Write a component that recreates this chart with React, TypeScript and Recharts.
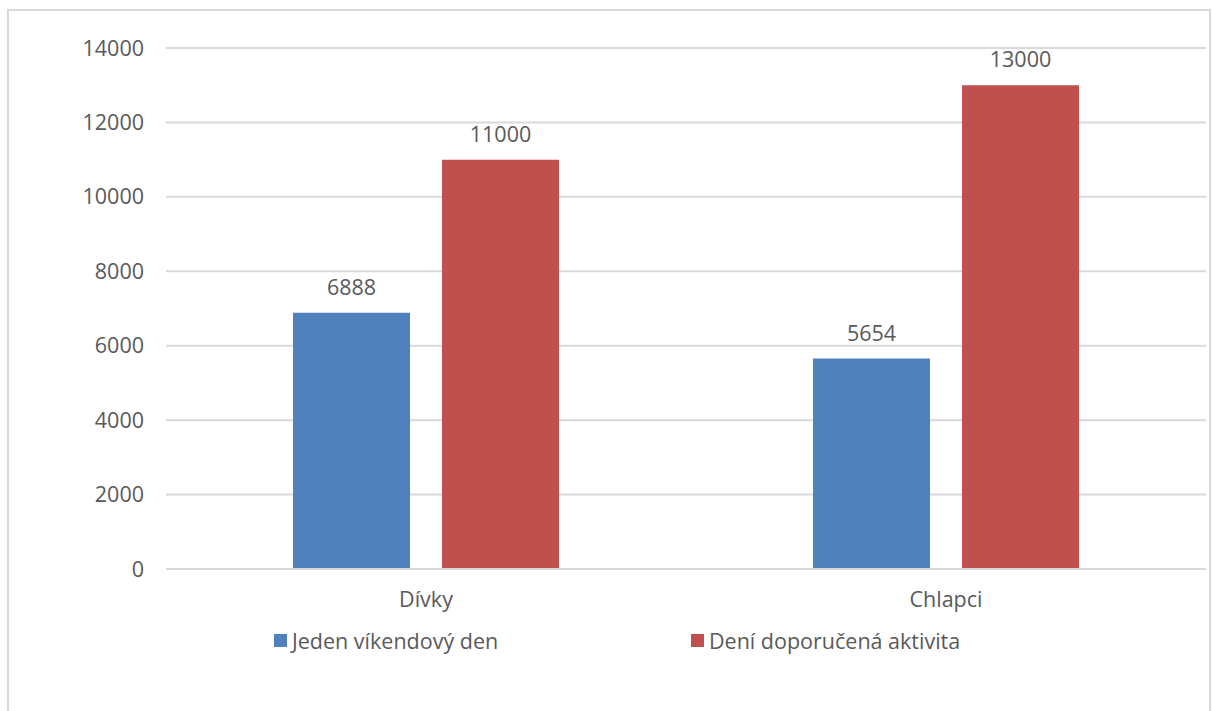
import { Bar, BarChart, CartesianGrid, LabelList, XAxis, YAxis } from "recharts";

const GROUPS = ["Dívky", "Chlapci"];
const WEEKEND_DAY = [6888, 5654];
const RECOMMENDED = [11000, 13000];
const Y_TICKS = [0, 2000, 4000, 6000, 8000, 10000, 12000, 14000];

const SERIES = [
  { key: "weekend", name: "Jeden víkendový den", color: "#4f81bd" },
  { key: "recommended", name: "Dení doporučená aktivita", color: "#c0504d" },
];

const rows = GROUPS.map((g, i) => ({
  group: g,
  weekend: WEEKEND_DAY[i],
  recommended: RECOMMENDED[i],
}));

const FONT = "'Open Sans', sans-serif";
const FONT_SIZE = 21.5;
const INK = "#595959";
const GRID = "#d9d9d9";

// Legend sits under the category labels, drawn as plain HTML so it does not
// eat into the plot height.
function LegendRow() {
  return (
    <div
      style={{
        position: "absolute",
        top: 626,
        left: 0,
        display: "flex",
        paddingLeft: 274,
        fontFamily: FONT,
        fontSize: FONT_SIZE,
        color: INK,
      }}
    >
      {SERIES.map((s) => (
        <div key={s.key} style={{ width: 417, display: "flex", alignItems: "center" }}>
          <span style={{ display: "inline-block", width: 13, height: 13, background: s.color, marginRight: 5 }} />
          {s.name}
        </div>
      ))}
    </div>
  );
}

export default function App() {
  return (
    <div style={{ position: "absolute", left: 0, top: 0, width: 1212, height: 711, overflow: "hidden", background: "#fff" }}>
      <div
        style={{
          position: "absolute",
          left: 7,
          top: 9,
          width: 1200,
          height: 720,
          border: `2px solid ${GRID}`,
        }}
      />
      <BarChart
        width={1212}
        height={711}
        data={rows}
        margin={{ top: 48, right: 6, left: 106, bottom: 112 }}
        barCategoryGap={127}
        barGap={32}
        barSize={117}
        style={{ position: "absolute", left: 0, top: 0 }}
      >
        <CartesianGrid stroke={GRID} strokeWidth={2} vertical={false} />
        <XAxis
          dataKey="group"
          height={30}
          axisLine={{ stroke: GRID, strokeWidth: 2 }}
          tickLine={false}
          tickMargin={17}
          tick={{ fill: INK, fontSize: FONT_SIZE, fontFamily: FONT }}
        />
        <YAxis
          width={60}
          domain={[0, 14000]}
          ticks={Y_TICKS}
          axisLine={false}
          tickLine={false}
          tickMargin={16}
          tick={{ fill: INK, fontSize: FONT_SIZE, fontFamily: FONT }}
        />
        {SERIES.map((s) => (
          <Bar key={s.key} dataKey={s.key} name={s.name} fill={s.color} isAnimationActive={false}>
            <LabelList
              dataKey={s.key}
              position="top"
              offset={18}
              style={{ fill: INK, fontSize: FONT_SIZE, fontFamily: FONT }}
            />
          </Bar>
        ))}
      </BarChart>
      <LegendRow />
    </div>
  );
}
